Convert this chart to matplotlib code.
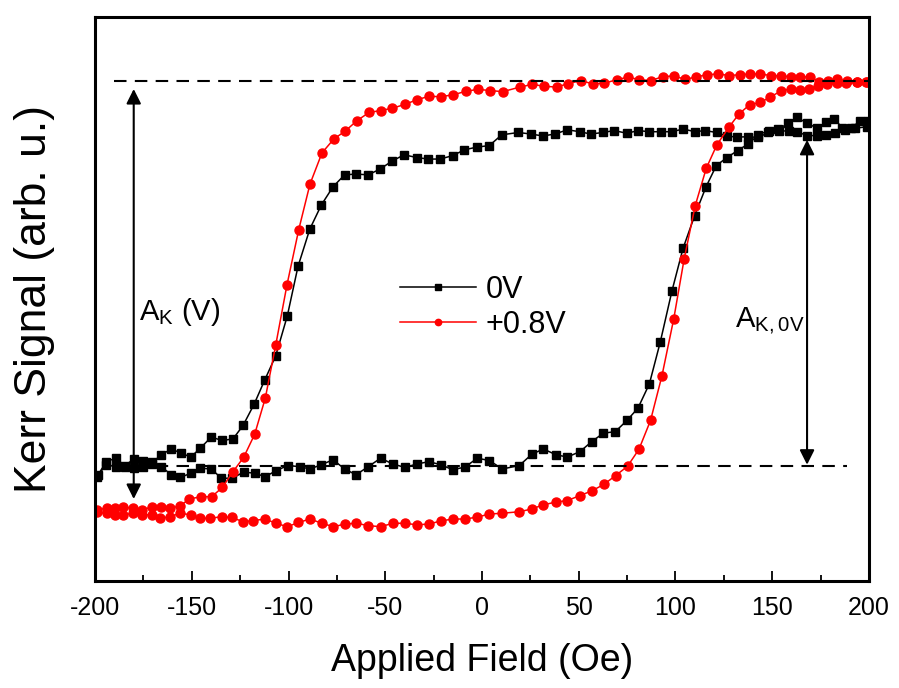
import matplotlib
matplotlib.use("Agg")
import matplotlib.pyplot as plt
from matplotlib.ticker import MultipleLocator

plt.rcParams['font.family'] = ['Liberation Sans', 'DejaVu Sans']
plt.rcParams['mathtext.fontset'] = 'custom'
plt.rcParams['mathtext.rm'] = 'Liberation Sans'
plt.rcParams['axes.unicode_minus'] = False

# Kerr loops, signal normalised so the two dashed levels are 0 and 100 (arb. u.)
# 0V loop: field swept down from +200 Oe, then back up
h_0v_down = [199.0, 192.9, 187.8, 182.6, 177.9, 173.1, 168.0, 162.8, 158.5, 153.3,
             148.0, 142.8, 137.6, 131.6, 126.5, 121.3, 115.2, 110.1, 104.0, 98.0,
             92.4, 86.5, 80.8, 74.8, 68.4, 62.4, 56.2, 50.6, 44.1, 37.7,
             31.4, 25.3, 18.8, 10.2, 3.8, -2.7, -9.1, -15.1, -21.7, -27.8,
             -33.7, -40.3, -46.4, -52.7, -58.8, -65.1, -71.0, -77.0, -83.0, -89.0,
             -95.1, -100.6, -106.6, -112.3, -117.8, -123.5, -128.7, -134.4, -139.9, -145.6,
             -150.5, -155.4, -160.6, -165.7, -170.4, -175.2, -180.0, -184.7, -189.3, -194.2,
             -198.4]
k_0v_down = [88.1, 87.7, 87.3, 86.4, 86.0, 85.8, 85.8, 86.8, 87.0, 87.0,
             86.6, 85.3, 85.5, 85.4, 85.7, 86.6, 87.1, 86.8, 87.5, 86.8,
             86.8, 86.8, 87.1, 86.4, 87.1, 86.6, 86.2, 86.8, 87.3, 86.2,
             85.7, 86.2, 86.6, 86.0, 83.2, 82.8, 82.1, 80.6, 79.7, 79.7,
             80.1, 80.8, 79.2, 77.1, 75.6, 75.8, 75.6, 72.5, 67.8, 61.5,
             51.8, 39.0, 28.6, 22.3, 16.0, 10.5, 7.0, 6.6, 7.5, 4.6,
             2.3, 3.3, 4.4, 2.9, 0.9, 1.4, 1.7, 0.1, 2.0, 1.1,
             -2.3]
h_0v_up = [-199.1, -194.2, -189.3, -184.7, -180.0, -175.2, -170.4, -165.7, -160.6, -155.9,
           -150.5, -145.6, -139.9, -134.7, -129.0, -123.2, -117.5, -112.0, -106.3, -100.3,
           -94.2, -89.0, -83.0, -77.0, -71.0, -65.1, -58.8, -52.4, -46.1, -39.8,
           -33.7, -27.4, -21.3, -15.1, -8.8, -2.4, 3.8, 10.5, 19.3, 25.7,
           31.7, 38.2, 44.1, 50.6, 56.7, 62.7, 68.9, 74.9, 80.6, 86.5,
           92.1, 98.2, 103.9, 109.9, 115.8, 121.1, 126.6, 132.1, 137.5, 142.9,
           148.1, 153.2, 158.4, 162.8, 168.1, 172.9, 177.8, 182.1, 186.3, 190.7,
           195.3, 199.5]
k_0v_up = [-2.8, 0.3, -0.2, -0.2, -0.6, -0.2, 0.5, -0.2, -2.3, -3.0,
           -1.9, -0.6, -0.8, -3.2, -3.2, -1.6, -1.9, -2.8, -1.2, 0.1,
           -0.2, -0.8, 0.3, 1.6, -0.8, -2.3, -0.2, 2.0, 0.5, -0.4,
           0.5, 1.1, 0.3, -1.0, -0.3, 2.0, 1.4, -0.8, 0.1, 3.0,
           4.4, 2.9, 2.3, 3.7, 6.3, 8.5, 8.9, 11.8, 15.0, 21.3,
           32.1, 45.5, 56.5, 65.0, 72.5, 78.0, 80.1, 81.9, 83.6, 86.0,
           87.1, 87.5, 89.0, 90.5, 89.0, 87.8, 89.2, 90.1, 87.8, 87.8,
           89.5, 89.7]

# +0.8V loop
h_08v_down = [198.8, 193.6, 188.5, 183.3, 179.0, 174.3, 169.5, 164.3, 159.5, 154.5,
              149.2, 143.7, 138.5, 133.3, 127.8, 122.1, 116.1, 110.6, 104.9, 99.2,
              93.4, 87.3, 81.3, 75.6, 69.6, 63.2, 57.2, 51.2, 44.6, 38.6,
              32.2, 26.0, 19.6, 10.7, 4.1, -2.2, -8.4, -14.8, -21.3, -27.4,
              -33.7, -39.8, -46.4, -52.4, -58.4, -64.8, -70.6, -76.6, -82.7, -88.9,
              -94.7, -100.8, -106.6, -112.0, -117.5, -123.2, -128.7, -134.2, -139.7, -145.2,
              -151.3, -156.1, -161.2, -166.0, -170.7, -175.9, -180.2, -185.4, -189.7, -194.0,
              -199.1]
k_08v_down = [99.8, 99.6, 100.1, 100.4, 100.1, 99.8, 101.0, 101.1, 101.1, 101.3,
              101.4, 101.8, 101.8, 101.6, 101.4, 101.8, 101.6, 101.0, 100.4, 101.3,
              101.1, 100.1, 100.3, 101.0, 100.3, 99.4, 99.2, 100.1, 99.3, 98.4,
              98.6, 99.1, 98.4, 97.2, 97.5, 97.8, 97.3, 96.4, 95.9, 96.0,
              95.1, 93.9, 92.9, 92.3, 91.8, 89.6, 87.0, 84.9, 81.3, 73.2,
              61.4, 47.0, 31.4, 17.6, 8.2, 2.2, -1.5, -5.6, -8.0, -8.0,
              -8.6, -10.4, -11.0, -10.7, -10.7, -11.4, -11.0, -10.7, -11.0, -11.0,
              -11.4]
h_08v_up = [-199.1, -194.0, -189.7, -185.4, -180.2, -175.9, -170.7, -166.4, -161.2, -156.1,
            -150.5, -145.7, -140.6, -134.5, -129.4, -123.4, -118.2, -112.1, -106.5, -100.6,
            -94.9, -88.9, -82.8, -76.8, -70.8, -65.1, -58.8, -52.4, -46.1, -39.8,
            -33.7, -27.4, -21.3, -15.1, -8.8, -2.4, 3.8, 10.5, 19.3, 25.7,
            31.7, 38.2, 44.1, 50.6, 56.7, 63.0, 69.1, 75.2, 81.1, 87.1,
            93.0, 99.1, 104.5, 110.2, 115.9, 121.4, 127.5, 132.8, 138.3, 143.8,
            149.0, 154.5, 159.7, 164.5, 169.1, 173.5, 178.3, 183.5, 188.3, 193.8,
            198.6]
k_08v_up = [-12.1, -12.3, -12.7, -12.7, -12.3, -12.7, -12.7, -13.6, -13.2, -12.3,
            -12.7, -13.6, -13.6, -13.2, -13.4, -14.5, -14.2, -13.8, -14.9, -15.8,
            -14.7, -13.8, -14.9, -15.8, -15.1, -14.9, -15.5, -15.8, -14.9, -14.9,
            -15.3, -15.1, -14.3, -13.8, -13.8, -13.3, -12.5, -12.3, -11.9, -11.2,
            -10.1, -9.4, -9.0, -7.7, -6.5, -4.8, -2.5, -0.1, 4.3, 11.8,
            23.4, 38.2, 53.8, 67.6, 77.3, 83.4, 87.9, 91.4, 93.8, 94.4,
            95.8, 97.4, 97.9, 97.7, 97.9, 98.8, 99.2, 99.4, 99.4, 99.7,
            99.7]

fig = plt.figure(figsize=(8.99, 6.88), dpi=100)
ax = fig.add_axes([0.1057, 0.1555, 0.8609, 0.8198])

ax.plot(h_0v_down + h_0v_up, k_0v_down + k_0v_up, color='black', lw=1.1,
        marker='s', ms=5.5, label='0V')
ax.plot(h_08v_down + h_08v_up, k_08v_down + k_08v_up, color='red', lw=1.1,
        marker='o', ms=6.5, label='+0.8V')

# saturation levels and amplitude arrows
ax.plot([-190, 200], [100, 100], color='black', lw=1.5, ls=(0, (6, 4)))
ax.plot([-190, 188.6], [0, 0], color='black', lw=1.5, ls=(0, (6, 4)))
arrow = dict(arrowstyle='<|-|>', color='black', lw=1.5, mutation_scale=22,
             shrinkA=0, shrinkB=0)
ax.annotate('', xy=(-180, 97.9), xytext=(-180, -8.6), arrowprops=arrow)
ax.annotate('', xy=(168, 84.7), xytext=(168, 0.3), arrowprops=arrow)
ax.text(-177.5, 37.9, r'A$_\mathregular{K}$ (V)', fontsize=21, va='baseline')
ax.text(130.7, 35.8, r'A$_\mathregular{K,0V}$', fontsize=21, va='baseline')

ax.set_xlim(-200, 200)
ax.set_ylim(-29.9, 116.6)
ax.xaxis.set_major_locator(MultipleLocator(50))
ax.xaxis.set_minor_locator(MultipleLocator(25))
ax.set_yticks([])
ax.tick_params(axis='x', which='major', direction='in', length=7, width=1.3,
               labelsize=18, pad=11)
ax.tick_params(axis='x', which='minor', direction='in', length=4, width=1.3)
for sp in ax.spines.values():
    sp.set_linewidth(2.2)

ax.set_xlabel('Applied Field (Oe)', fontsize=27, labelpad=16)
ax.set_ylabel('Kerr Signal (arb. u.)', fontsize=32, labelpad=29)

ax.legend(loc='center left', bbox_to_anchor=(0.394, 0.485), frameon=False,
          fontsize=22, handlelength=2.5, handletextpad=0.3, labelspacing=0.15,
          borderpad=0, borderaxespad=0, markerscale=0.7)

fig.savefig('out.png', dpi=100)
